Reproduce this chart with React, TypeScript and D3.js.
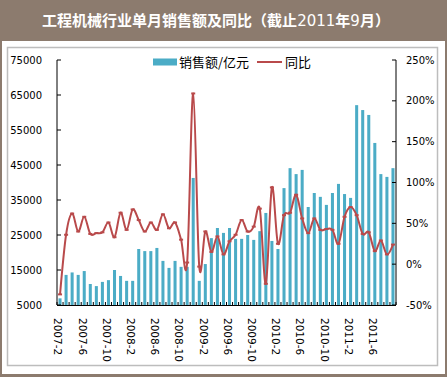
import React from "react";
import * as d3 from "d3";

const months: string[] = [
  "2007-2","2007-3","2007-4","2007-5","2007-6","2007-7","2007-8","2007-9","2007-10","2007-11","2007-12",
  "2008-1","2008-2","2008-3","2008-4","2008-5","2008-6","2008-7","2008-8","2008-9","2008-10","2008-11","2008-12",
  "2009-1","2009-2","2009-3","2009-4","2009-5","2009-6","2009-7","2009-8","2009-9","2009-10","2009-11","2009-12",
  "2010-1","2010-2","2010-3","2010-4","2010-5","2010-6","2010-7","2010-8","2010-9","2010-10","2010-11","2010-12",
  "2011-1","2011-2","2011-3","2011-4","2011-5","2011-6","2011-7","2011-8","2011-9",
];

const sales: number[] = [
  6900, 13600, 14300, 13600, 14700, 11000, 10400, 11600, 12100, 15000, 13300,
  11900, 11900, 21000, 20400, 20400, 21300, 17600, 15600, 17600, 15900, 15900, 41300,
  11900, 16700, 24100, 27000, 25600, 27000, 23900, 23900, 25000, 23600, 26100, 31300,
  23300, 21000, 38400, 44100, 42400, 43600, 33000, 37000, 35900, 33600, 37000, 39600,
  36700, 35600, 62100, 60700, 59300, 51300, 42400, 41600, 44100,
];

const yoy: number[] = [
  -37, 36, 62, 40, 58, 37, 38, 39, 51, 33, 63,
  42, 67, 54, 40, 51, 42, 61, 44, 51, 30, 2, 209,
  -3, 40, 15, 34, 12, 28, 36, 54, 40, 46, 68, -24,
  94, 25, 60, 63, 85, 56, 38, 56, 42, 43, 42, 25,
  58, 70, 60, 37, 39, 16, 29, 12, 24,
];

const leftTicks: number[] = [5000, 15000, 25000, 35000, 45000, 55000, 65000, 75000];
const rightTicks: number[] = [-50, 0, 50, 100, 150, 200, 250];
const shownLabels: string[] = [
  "2007-2","2007-6","2007-10","2008-2","2008-6","2008-10","2009-2",
  "2009-6","2009-10","2010-2","2010-6","2010-10","2011-2","2011-6",
];

const W = 447, H = 377;
const left = 57, right = 396, top = 60, bottom = 305;
const BAR = "#4BACC6";
const LINE = "#B94A4B";
const BROWN = "#8C7B6E";
const FONT = "'DejaVu Sans', sans-serif";
const CJK = "'Noto Sans CJK SC', sans-serif";

export default function App() {
  const x = d3.scaleBand<string>().domain(months).range([left, right]).paddingInner(0.5).paddingOuter(0.25);
  const yL = d3.scaleLinear().domain([5000, 75000]).range([bottom, top]);
  const yR = d3.scaleLinear().domain([-50, 250]).range([bottom, top]);
  const step = x.step();
  const cx = (m: string) => (x(m) as number) + x.bandwidth() / 2;

  const line = d3
    .line<number>()
    .x((_, i) => cx(months[i]))
    .y((d) => yR(d))
    .curve(d3.curveCardinal.tension(0));

  const boundaries = d3.range(months.length + 1).map((i) => left + i * step);

  return (
    <svg width={W} height={H} style={{ position: "absolute", left: 0, top: 0 }}>
      <rect x={0} y={0} width={W} height={H} fill={BROWN} />
      <rect x={2} y={41} width={W - 4} height={H - 44} fill="#ffffff" />
      <rect x={7.5} y={47.5} width={430} height={318} fill="#ffffff" stroke="#BDBDBD" strokeWidth={1.5} />
      <text x={216} y={26} textAnchor="middle" fill="#ffffff" fontSize={15} fontWeight="bold" fontFamily={CJK}>
        工程机械行业单月销售额及同比（截止<tspan fontWeight="normal" fontFamily={FONT}>2011</tspan>年<tspan fontWeight="normal" fontFamily={FONT}>9</tspan>月）
      </text>

      {/* bars */}
      {sales.map((v, i) => (
        <rect key={i} x={x(months[i])} y={yL(v)} width={x.bandwidth()} height={bottom - yL(v)} fill={BAR} />
      ))}

      {/* line */}
      <path d={line(yoy) || ""} fill="none" stroke={LINE} strokeWidth={2} />
      {yoy.map((v, i) => (
        <rect key={i} x={cx(months[i]) - 2} y={yR(v) - 1} width={4} height={2} fill={LINE} />
      ))}

      {/* axes */}
      <line x1={left} x2={left} y1={top} y2={bottom} stroke="#000" strokeWidth={1} />
      <line x1={right} x2={right} y1={top} y2={bottom} stroke="#000" strokeWidth={1} />
      <line x1={left} x2={right} y1={bottom + 0.5} y2={bottom + 0.5} stroke="#000" strokeWidth={1} />
      {leftTicks.map((t) => (
        <g key={t}>
          <line x1={left} x2={left + 4} y1={yL(t)} y2={yL(t)} stroke="#000" />
          <text x={42} y={yL(t)} dy="0.35em" textAnchor="end" fontSize={10} fontFamily={FONT} fill="#000">
            {t}
          </text>
        </g>
      ))}
      {rightTicks.map((t) => (
        <g key={t}>
          <line x1={right - 4} x2={right} y1={yR(t)} y2={yR(t)} stroke="#000" />
          <text x={406} y={yR(t)} dy="0.35em" textAnchor="start" fontSize={10} fontFamily={FONT} fill="#000">
            {t + "%"}
          </text>
        </g>
      ))}
      {boundaries.map((b, i) => (
        <line key={i} x1={b} x2={b} y1={bottom} y2={bottom - 3} stroke="#000" />
      ))}
      {shownLabels.map((m) => (
        <text
          key={m}
          transform={`translate(${cx(m) - 2},${318}) rotate(90)`}
          textAnchor="start"
          dy="0.35em"
          fontSize={10.5}
          fontFamily={FONT}
          fill="#000"
        >
          {m}
        </text>
      ))}

      {/* legend */}
      <rect x={153} y={58.5} width={24} height={7} fill={BAR} />
      <text x={179} y={62} dy="0.35em" fontSize={13} fontFamily={CJK} fill="#000">销售额/亿元</text>
      <line x1={257} x2={282} y1={62} y2={62} stroke={LINE} strokeWidth={2} />
      <rect x={267.5} y={61} width={4} height={2} fill={LINE} />
      <text x={285} y={62} dy="0.35em" fontSize={13} fontFamily={CJK} fill="#000">同比</text>
    </svg>
  );
}
